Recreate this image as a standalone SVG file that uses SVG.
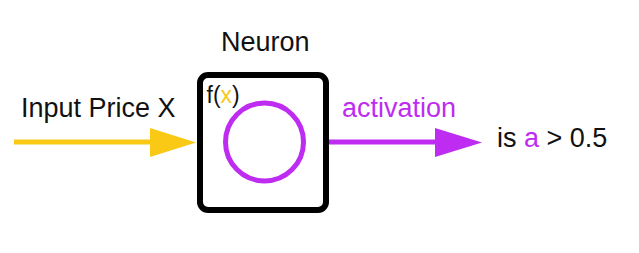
<svg xmlns="http://www.w3.org/2000/svg" width="639" height="253" viewBox="0 0 639 253">
<style>
text{font-family:"Liberation Sans",Arial,sans-serif;font-size:27px;fill:#111}
.p{fill:#BE2CF2}
.y{fill:#F9C916}
</style>
<rect width="639" height="253" fill="#fff"/>
<g id="connectors">
<g id="input-arrow">
<line x1="14" y1="142" x2="155" y2="142" stroke="#F9C916" stroke-width="5"/>
<polygon points="150,128 196,142.5 150,157" fill="#F9C916"/>
</g>
<g id="output-arrow">
<line x1="329" y1="142" x2="440" y2="142" stroke="#BE2CF2" stroke-width="5"/>
<polygon points="435,128 482,142.5 435,157" fill="#BE2CF2"/>
</g>
<text x="342" y="117" class="p">activation</text>
<text x="21" y="117">Input Price X</text>
</g>
<g id="neuron">
<text x="221" y="51">Neuron</text>
<rect x="200" y="75" width="126" height="135" rx="8" fill="#fff" stroke="#000" stroke-width="6"/>
<text x="206.5" y="103" style="font-size:23px">f(<tspan class="y">x</tspan>)</text>
<circle cx="264.5" cy="142" r="39" fill="none" stroke="#BE2CF2" stroke-width="5"/>
</g>
<g id="output">
<text x="497" y="147">is <tspan class="p">a</tspan> &gt; 0.5</text>
</g>
</svg>
